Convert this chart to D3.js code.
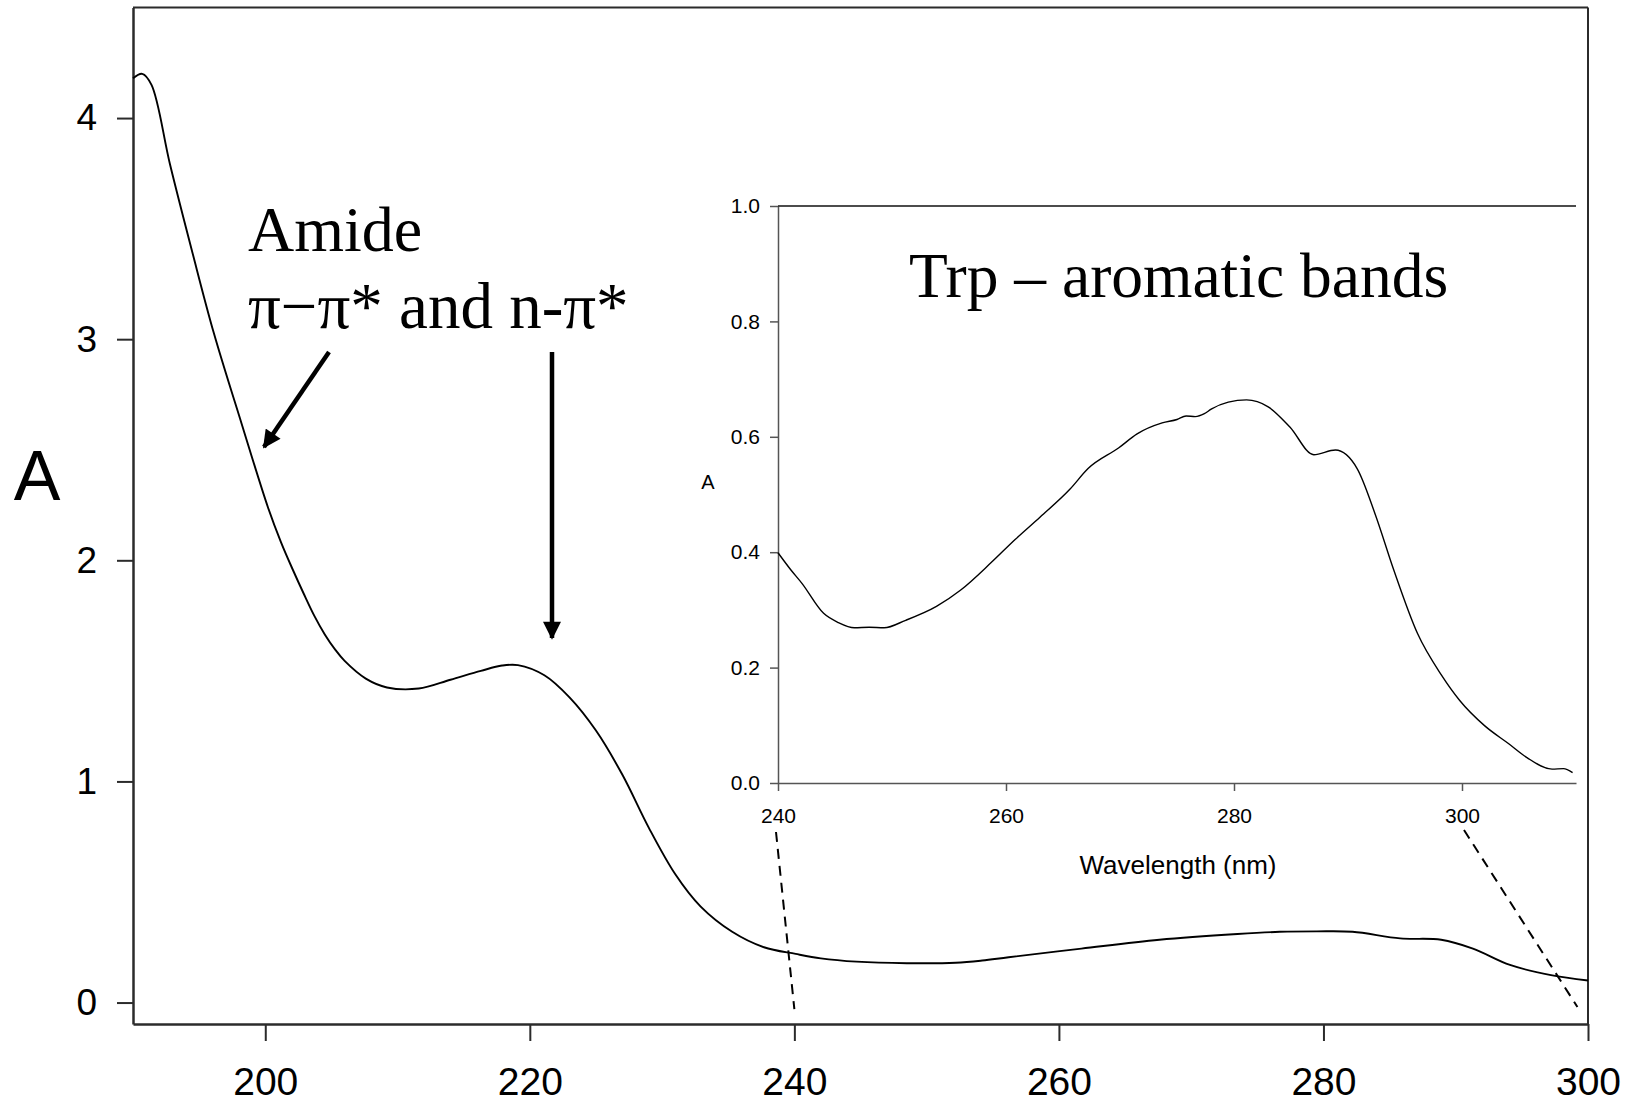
<!DOCTYPE html>
<html>
<head>
<meta charset="utf-8">
<script src="https://cdn.jsdelivr.net/npm/d3@7"></script>
<style>
  html, body { margin: 0; padding: 0; background: #fff; }
  svg { display: block; }
</style>
</head>
<body>
<svg id="chart" width="1639" height="1103"></svg>
<script>
// ---------------- DATA ----------------
// Main spectrum (wavelength nm, absorbance)
const mainWavelength = [190, 190.7, 191.4, 192.8, 194.5, 196.1, 198.2, 200.2, 201.2, 202.1, 202.9, 203.7, 204.5, 205.3, 206.0, 207.6, 209.2, 211.6, 214.0, 216.3, 217.9, 219.1, 221.1, 223.0, 225.0, 227.0, 229.0, 231.0, 232.9, 235.3, 237.7, 240.1, 242.0, 244.7, 248.5, 252.2, 254.2, 256.2, 261.7, 267.6, 273.5, 276.7, 279.5, 282.2, 285.8, 288.9, 291.3, 294.1, 297.2, 300];
const mainAbsorbance = [4.18, 4.20, 4.15, 3.79, 3.39, 3.03, 2.62, 2.24, 2.08, 1.955, 1.85, 1.75, 1.665, 1.595, 1.545, 1.465, 1.425, 1.42, 1.46, 1.50, 1.524, 1.526, 1.48, 1.38, 1.23, 1.03, 0.79, 0.58, 0.435, 0.32, 0.25, 0.22, 0.20, 0.185, 0.178, 0.18, 0.19, 0.205, 0.244, 0.284, 0.31, 0.32, 0.322, 0.32, 0.29, 0.284, 0.244, 0.17, 0.124, 0.10];

// Inset spectrum: Trp aromatic bands
const insetWavelength = [240, 241.1, 242.1, 244.0, 245.3, 246.7, 248.0, 249.3, 251.2, 253.9, 256.0, 258.7, 260.8, 263.0, 265.6, 267.2, 269.9, 271.5, 273.7, 275.0, 275.8, 276.6, 277.4, 278.0, 279.5, 281.1, 283.0, 284.9, 287.0, 288.9, 290.8, 292.4, 294.0, 296.1, 298.2, 299.8, 302.0, 304.1, 305.7, 307.9, 308.9, 309.7];
const insetAbsorbance = [0.399, 0.370, 0.346, 0.294, 0.278, 0.269, 0.270, 0.269, 0.282, 0.306, 0.334, 0.382, 0.422, 0.461, 0.509, 0.545, 0.581, 0.605, 0.624, 0.630, 0.636, 0.635, 0.640, 0.648, 0.660, 0.664, 0.652, 0.617, 0.569, 0.577, 0.545, 0.465, 0.370, 0.259, 0.187, 0.143, 0.099, 0.068, 0.044, 0.024, 0.025, 0.018];

// Tick values
const mainXTicks = [200, 220, 240, 260, 280, 300];
const mainYTicks = [0, 1, 2, 3, 4];
const insetXTicks = [240, 260, 280, 300];
const insetYTicks = [0.0, 0.2, 0.4, 0.6, 0.8, 1.0];

// Text
const mainYLabel = "A";
const insetYLabel = "A";
const insetXLabel = "Wavelength (nm)";
const annotationLine1 = "Amide";
const annotationLine2 = "π−π* and n-π*";
const insetTitle = "Trp – aromatic bands";

// ---------------- DRAWING ----------------
const svg = d3.select("#chart");
const sans = "'Liberation Sans', Arial, sans-serif";
const serif = "'Liberation Serif', 'Times New Roman', serif";

// Main scales
const x = d3.scaleLinear().domain([190, 300]).range([133, 1588]);
const y = d3.scaleLinear().domain([-0.097, 4.5]).range([1024, 7.5]);

// Inset scales
const xi = d3.scaleLinear().domain([240, 310]).range([778, 1576]);
const yi = d3.scaleLinear().domain([0, 1]).range([783, 206]);

// defs for arrowhead
svg.append("defs").append("marker")
  .attr("id", "arrowhead")
  .attr("viewBox", "0 0 10 10")
  .attr("refX", 9).attr("refY", 5)
  .attr("markerWidth", 4.2).attr("markerHeight", 4)
  .attr("markerUnits", "strokeWidth")
  .attr("orient", "auto")
  .append("path").attr("d", "M0,0 L10,5 L0,10 Z").attr("fill", "#000");

// Main frame (top and right borders)
const axisColor = "#2b2b2b";
svg.append("line").attr("x1", x(190)).attr("x2", x(300)).attr("y1", y(4.5)).attr("y2", y(4.5))
  .attr("stroke", axisColor).attr("stroke-width", 2);
svg.append("line").attr("x1", x(300)).attr("x2", x(300)).attr("y1", y(4.5)).attr("y2", y(-0.097))
  .attr("stroke", axisColor).attr("stroke-width", 2);

// Main x axis
const gx = svg.append("g").attr("transform", `translate(0,${y(-0.097)})`)
  .call(d3.axisBottom(x).tickValues(mainXTicks).tickSize(17).tickPadding(26).tickSizeOuter(0).tickFormat(d3.format("d")));
gx.select(".domain").attr("stroke", axisColor).attr("stroke-width", 2.5);
gx.selectAll(".tick line").attr("stroke", axisColor).attr("stroke-width", 2);
gx.selectAll(".tick text").attr("font-family", sans).attr("font-size", 39).attr("fill", "#000");

// Main y axis
const gy = svg.append("g").attr("transform", `translate(${x(190)},0)`)
  .call(d3.axisLeft(y).tickValues(mainYTicks).tickSize(16).tickPadding(20).tickSizeOuter(0).tickFormat(d3.format("d")));
gy.select(".domain").attr("stroke", axisColor).attr("stroke-width", 2.5);
gy.selectAll(".tick line").attr("stroke", axisColor).attr("stroke-width", 2);
gy.selectAll(".tick text").attr("font-family", sans).attr("font-size", 37).attr("fill", "#000");

// Main y label
svg.append("text").attr("x", 37).attr("y", 500).attr("text-anchor", "middle")
  .attr("font-family", sans).attr("font-size", 70).attr("fill", "#000").text(mainYLabel);

// Main curve
const lineMain = d3.line().x((d, i) => x(mainWavelength[i])).y(d => y(d)).curve(d3.curveCatmullRom.alpha(0.5));
svg.append("path").datum(mainAbsorbance).attr("d", lineMain)
  .attr("fill", "none").attr("stroke", "#000").attr("stroke-width", 1.9);

// Inset axes
const insetColor = "#555";
const gxi = svg.append("g").attr("transform", `translate(0,${yi(0)})`)
  .call(d3.axisBottom(xi).tickValues(insetXTicks).tickSize(8).tickPadding(17).tickSizeOuter(0).tickFormat(d3.format("d")));
gxi.select(".domain").attr("stroke", insetColor).attr("stroke-width", 1.5);
gxi.selectAll(".tick line").attr("stroke", insetColor).attr("stroke-width", 1.5);
gxi.selectAll(".tick text").attr("font-family", sans).attr("font-size", 21).attr("fill", "#000");

const gyi = svg.append("g").attr("transform", `translate(${xi(240)},0)`)
  .call(d3.axisLeft(yi).tickValues(insetYTicks).tickSize(8).tickPadding(10).tickSizeOuter(0).tickFormat(d3.format(".1f")));
gyi.select(".domain").attr("stroke", insetColor).attr("stroke-width", 1.5);
gyi.selectAll(".tick line").attr("stroke", insetColor).attr("stroke-width", 1.5);
gyi.selectAll(".tick text").attr("font-family", sans).attr("font-size", 21).attr("fill", "#000");

// Inset top line at 1.0
svg.append("line").attr("x1", xi(240)).attr("x2", xi(310)).attr("y1", yi(1)).attr("y2", yi(1))
  .attr("stroke", "#111").attr("stroke-width", 1.5);

// Inset labels
svg.append("text").attr("x", 708).attr("y", 489).attr("text-anchor", "middle")
  .attr("font-family", sans).attr("font-size", 20).attr("fill", "#000").text(insetYLabel);
svg.append("text").attr("x", 1178).attr("y", 874).attr("text-anchor", "middle")
  .attr("font-family", sans).attr("font-size", 26).attr("fill", "#000").text(insetXLabel);

// Inset curve
const lineInset = d3.line().x((d, i) => xi(insetWavelength[i])).y(d => yi(d)).curve(d3.curveMonotoneX);
svg.append("path").datum(insetAbsorbance).attr("d", lineInset)
  .attr("fill", "none").attr("stroke", "#000").attr("stroke-width", 1.4);

// Dashed connector lines from inset axis to main axis
svg.append("line").attr("x1", xi(240) - 2).attr("y1", yi(0) + 49).attr("x2", x(240)).attr("y2", y(-0.03))
  .attr("stroke", "#000").attr("stroke-width", 2).attr("stroke-dasharray", "10,7");
svg.append("line").attr("x1", xi(300) + 2).attr("y1", yi(0) + 47).attr("x2", x(299.2)).attr("y2", y(-0.02))
  .attr("stroke", "#000").attr("stroke-width", 2).attr("stroke-dasharray", "10,7");

// Annotations
svg.append("text").attr("x", 248).attr("y", 251)
  .attr("font-family", serif).attr("font-size", 64).attr("fill", "#000").text(annotationLine1);
svg.append("text").attr("x", 248).attr("y", 328)
  .attr("font-family", serif).attr("font-size", 65).attr("fill", "#000").text(annotationLine2);

svg.append("text").attr("x", 909).attr("y", 297)
  .attr("font-family", serif).attr("font-size", 63.5).attr("fill", "#000").text(insetTitle);

// Arrows
svg.append("line").attr("x1", 329).attr("y1", 352).attr("x2", 264).attr("y2", 447)
  .attr("stroke", "#000").attr("stroke-width", 4.5).attr("marker-end", "url(#arrowhead)");
svg.append("line").attr("x1", 552).attr("y1", 352).attr("x2", 552).attr("y2", 638)
  .attr("stroke", "#000").attr("stroke-width", 4.5).attr("marker-end", "url(#arrowhead)");
</script>
</body>
</html>
